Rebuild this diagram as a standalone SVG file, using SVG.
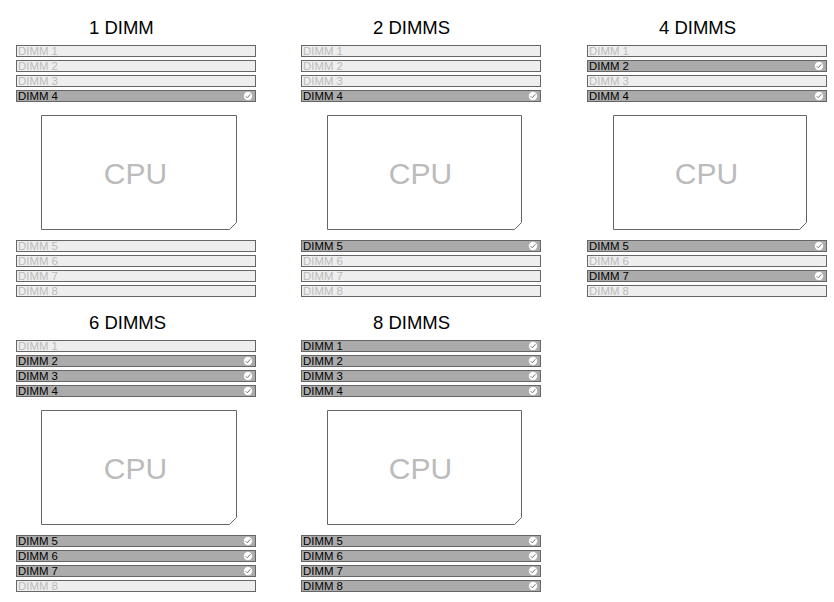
<svg xmlns="http://www.w3.org/2000/svg" width="834" height="602" viewBox="0 0 834 602">
<style>
.title{font-family:"Liberation Sans",Arial,sans-serif;font-size:18.5px;fill:#000}
.cpu{fill:#fff;stroke:#666;stroke-width:1}
.cput{font-family:"Liberation Sans",Arial,sans-serif;font-size:30px;fill:#bbb;text-anchor:middle}
.off rect{fill:#eee;stroke:#666;stroke-width:1}
.off text{fill:#bbb}
.on rect{fill:#ababab;stroke:#666;stroke-width:1}
.on text{fill:#000}
.slot text{font-family:"Liberation Sans",Arial,sans-serif;font-size:11.4px}
</style>
<defs>
<g id="chk">
<circle cx="0" cy="0" r="4.5" fill="#fff" stroke="#999" stroke-width="0.5"/>
<path d="M-2.3,0.2 L-0.7,1.8 L2.4,-1.8" fill="none" stroke="#777" stroke-width="1"/>
</g>
</defs>
<g id="connectors"/>

<!-- Panel 1 -->
<g id="panel-1dimm">
<text class="title" x="89" y="34">1 DIMM</text>
<g id="p1-dimm1" class="slot off"><rect x="16.5" y="45.5" width="239" height="11"/><text x="18" y="55">DIMM 1</text></g>
<g id="p1-dimm2" class="slot off"><rect x="16.5" y="60.5" width="239" height="11"/><text x="18" y="70">DIMM 2</text></g>
<g id="p1-dimm3" class="slot off"><rect x="16.5" y="75.5" width="239" height="11"/><text x="18" y="85">DIMM 3</text></g>
<g id="p1-dimm4" class="slot on"><rect x="16.5" y="90.5" width="239" height="11"/><text x="18" y="100">DIMM 4</text><use href="#chk" x="248" y="96"/></g>
<g id="p1-cpu"><path class="cpu" d="M41.5,115.5 H236.5 V222.5 L229.5,229.5 H41.5 Z"/><text class="cput" x="135.5" y="184">CPU</text></g>
<g id="p1-dimm5" class="slot off"><rect x="16.5" y="240.5" width="239" height="11"/><text x="18" y="250">DIMM 5</text></g>
<g id="p1-dimm6" class="slot off"><rect x="16.5" y="255.5" width="239" height="11"/><text x="18" y="265">DIMM 6</text></g>
<g id="p1-dimm7" class="slot off"><rect x="16.5" y="270.5" width="239" height="11"/><text x="18" y="280">DIMM 7</text></g>
<g id="p1-dimm8" class="slot off"><rect x="16.5" y="285.5" width="239" height="11"/><text x="18" y="295">DIMM 8</text></g>
</g>

<!-- Panel 2 -->
<g id="panel-2dimms" transform="translate(285,0)">
<text class="title" x="88" y="34">2 DIMMS</text>
<g id="p2-dimm1" class="slot off"><rect x="16.5" y="45.5" width="239" height="11"/><text x="18" y="55">DIMM 1</text></g>
<g id="p2-dimm2" class="slot off"><rect x="16.5" y="60.5" width="239" height="11"/><text x="18" y="70">DIMM 2</text></g>
<g id="p2-dimm3" class="slot off"><rect x="16.5" y="75.5" width="239" height="11"/><text x="18" y="85">DIMM 3</text></g>
<g id="p2-dimm4" class="slot on"><rect x="16.5" y="90.5" width="239" height="11"/><text x="18" y="100">DIMM 4</text><use href="#chk" x="248" y="96"/></g>
<g id="p2-cpu"><path class="cpu" d="M42.5,115.5 H236.5 V222.5 L229.5,229.5 H42.5 Z"/><text class="cput" x="135.5" y="184">CPU</text></g>
<g id="p2-dimm5" class="slot on"><rect x="16.5" y="240.5" width="239" height="11"/><text x="18" y="250">DIMM 5</text><use href="#chk" x="248" y="246"/></g>
<g id="p2-dimm6" class="slot off"><rect x="16.5" y="255.5" width="239" height="11"/><text x="18" y="265">DIMM 6</text></g>
<g id="p2-dimm7" class="slot off"><rect x="16.5" y="270.5" width="239" height="11"/><text x="18" y="280">DIMM 7</text></g>
<g id="p2-dimm8" class="slot off"><rect x="16.5" y="285.5" width="239" height="11"/><text x="18" y="295">DIMM 8</text></g>
</g>

<!-- Panel 3 -->
<g id="panel-4dimms" transform="translate(571,0)">
<text class="title" x="88" y="34">4 DIMMS</text>
<g id="p3-dimm1" class="slot off"><rect x="16.5" y="45.5" width="239" height="11"/><text x="18" y="55">DIMM 1</text></g>
<g id="p3-dimm2" class="slot on"><rect x="16.5" y="60.5" width="239" height="11"/><text x="18" y="70">DIMM 2</text><use href="#chk" x="248" y="66"/></g>
<g id="p3-dimm3" class="slot off"><rect x="16.5" y="75.5" width="239" height="11"/><text x="18" y="85">DIMM 3</text></g>
<g id="p3-dimm4" class="slot on"><rect x="16.5" y="90.5" width="239" height="11"/><text x="18" y="100">DIMM 4</text><use href="#chk" x="248" y="96"/></g>
<g id="p3-cpu"><path class="cpu" d="M42.5,115.5 H235.5 V222.5 L228.5,229.5 H42.5 Z"/><text class="cput" x="135.5" y="184">CPU</text></g>
<g id="p3-dimm5" class="slot on"><rect x="16.5" y="240.5" width="239" height="11"/><text x="18" y="250">DIMM 5</text><use href="#chk" x="248" y="246"/></g>
<g id="p3-dimm6" class="slot off"><rect x="16.5" y="255.5" width="239" height="11"/><text x="18" y="265">DIMM 6</text></g>
<g id="p3-dimm7" class="slot on"><rect x="16.5" y="270.5" width="239" height="11"/><text x="18" y="280">DIMM 7</text><use href="#chk" x="248" y="276"/></g>
<g id="p3-dimm8" class="slot off"><rect x="16.5" y="285.5" width="239" height="11"/><text x="18" y="295">DIMM 8</text></g>
</g>

<!-- Panel 4 -->
<g id="panel-6dimms" transform="translate(0,295)">
<text class="title" x="89" y="34">6 DIMMS</text>
<g id="p4-dimm1" class="slot off"><rect x="16.5" y="45.5" width="239" height="11"/><text x="18" y="55">DIMM 1</text></g>
<g id="p4-dimm2" class="slot on"><rect x="16.5" y="60.5" width="239" height="11"/><text x="18" y="70">DIMM 2</text><use href="#chk" x="248" y="66"/></g>
<g id="p4-dimm3" class="slot on"><rect x="16.5" y="75.5" width="239" height="11"/><text x="18" y="85">DIMM 3</text><use href="#chk" x="248" y="81"/></g>
<g id="p4-dimm4" class="slot on"><rect x="16.5" y="90.5" width="239" height="11"/><text x="18" y="100">DIMM 4</text><use href="#chk" x="248" y="96"/></g>
<g id="p4-cpu"><path class="cpu" d="M41.5,115.5 H236.5 V222.5 L229.5,229.5 H41.5 Z"/><text class="cput" x="135.5" y="184">CPU</text></g>
<g id="p4-dimm5" class="slot on"><rect x="16.5" y="240.5" width="239" height="11"/><text x="18" y="250">DIMM 5</text><use href="#chk" x="248" y="246"/></g>
<g id="p4-dimm6" class="slot on"><rect x="16.5" y="255.5" width="239" height="11"/><text x="18" y="265">DIMM 6</text><use href="#chk" x="248" y="261"/></g>
<g id="p4-dimm7" class="slot on"><rect x="16.5" y="270.5" width="239" height="11"/><text x="18" y="280">DIMM 7</text><use href="#chk" x="248" y="276"/></g>
<g id="p4-dimm8" class="slot off"><rect x="16.5" y="285.5" width="239" height="11"/><text x="18" y="295">DIMM 8</text></g>
</g>

<!-- Panel 5 -->
<g id="panel-8dimms" transform="translate(285,295)">
<text class="title" x="88" y="34">8 DIMMS</text>
<g id="p5-dimm1" class="slot on"><rect x="16.5" y="45.5" width="239" height="11"/><text x="18" y="55">DIMM 1</text><use href="#chk" x="248" y="51"/></g>
<g id="p5-dimm2" class="slot on"><rect x="16.5" y="60.5" width="239" height="11"/><text x="18" y="70">DIMM 2</text><use href="#chk" x="248" y="66"/></g>
<g id="p5-dimm3" class="slot on"><rect x="16.5" y="75.5" width="239" height="11"/><text x="18" y="85">DIMM 3</text><use href="#chk" x="248" y="81"/></g>
<g id="p5-dimm4" class="slot on"><rect x="16.5" y="90.5" width="239" height="11"/><text x="18" y="100">DIMM 4</text><use href="#chk" x="248" y="96"/></g>
<g id="p5-cpu"><path class="cpu" d="M42.5,115.5 H236.5 V222.5 L229.5,229.5 H42.5 Z"/><text class="cput" x="135.5" y="184">CPU</text></g>
<g id="p5-dimm5" class="slot on"><rect x="16.5" y="240.5" width="239" height="11"/><text x="18" y="250">DIMM 5</text><use href="#chk" x="248" y="246"/></g>
<g id="p5-dimm6" class="slot on"><rect x="16.5" y="255.5" width="239" height="11"/><text x="18" y="265">DIMM 6</text><use href="#chk" x="248" y="261"/></g>
<g id="p5-dimm7" class="slot on"><rect x="16.5" y="270.5" width="239" height="11"/><text x="18" y="280">DIMM 7</text><use href="#chk" x="248" y="276"/></g>
<g id="p5-dimm8" class="slot on"><rect x="16.5" y="285.5" width="239" height="11"/><text x="18" y="295">DIMM 8</text><use href="#chk" x="248" y="291"/></g>
</g>
</svg>
